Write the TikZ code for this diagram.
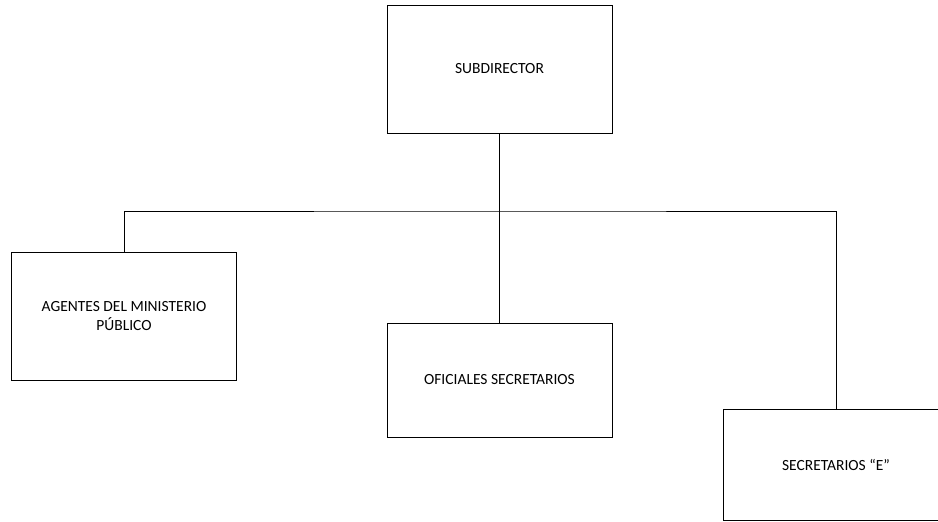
\documentclass[tikz,border=0pt]{standalone}
\usepackage{fontspec}
\setmainfont{Carlito}
\tikzset{
    puesto/.style={draw, line width=0.9pt, minimum width=225pt, align=center,
        inner sep=0pt, font=\fontsize{15.5}{19}\selectfont},
    linea/.style={draw, line width=0.9pt}
}
\begin{document}
\begin{tikzpicture}[x=1pt, y=1pt]
    % Rahmen wie im Original
    \useasboundingbox (0,0) rectangle (938,-522);

    % Oberstes Rechteck
    \node[puesto, minimum height=128pt] (sub) at (499.5,-69) {SUBDIRECTOR};

    % Untere Rechtecke
    \node[puesto, minimum height=128pt] (agentes) at (124,-316)
        {AGENTES DEL MINISTERIO\\PÚBLICO};
    \node[puesto, minimum height=114pt] (oficiales) at (499.5,-380) {OFICIALES SECRETARIOS};
    \node[puesto, minimum height=111pt] (secretarios) at (836,-464.5) {SECRETARIOS “E”};

    % Verbindungen
    \coordinate (bus) at (499.5,-211);
    \draw[linea] (agentes.north) |- (bus) -| (secretarios.north);
    \draw[linea] (sub.south) -- (oficiales.north);
\end{tikzpicture}
\end{document}
